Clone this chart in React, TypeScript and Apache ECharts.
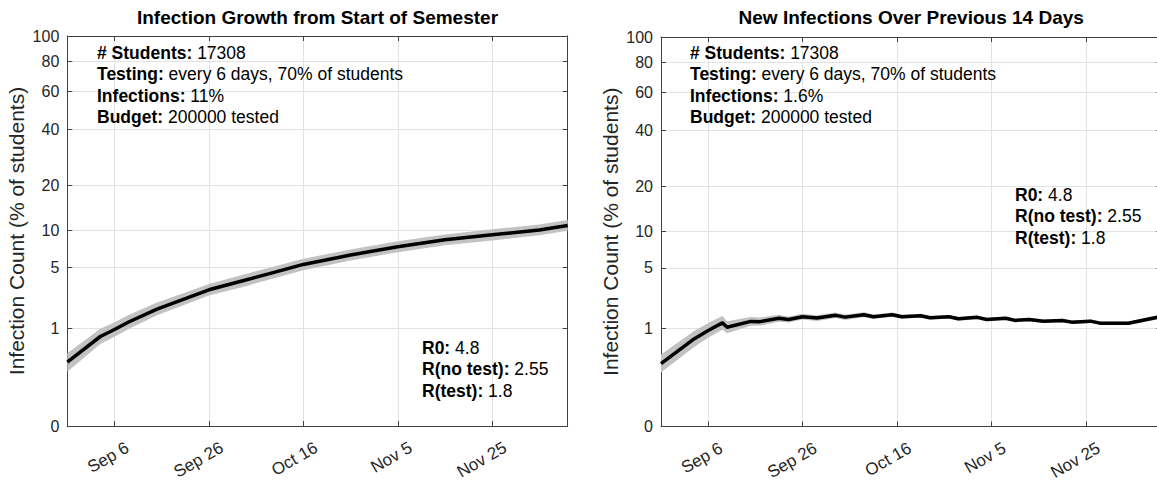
import React, { useEffect, useRef } from 'react';
import * as echarts from 'echarts';

// ---------- data ----------
const dayTicks = [10, 30, 50, 70, 90];
const dayTickLabels = ['Sep 6', 'Sep 26', 'Oct 16', 'Nov 5', 'Nov 25'];
const yTickValues = [0, 1, 5, 10, 20, 40, 60, 80, 100];

const leftDays = [0, 7, 10, 13, 19, 25, 30, 37, 44, 50, 60, 70, 80, 90, 100, 106];
const leftValues = [0.24, 0.74, 0.95, 1.22, 1.8, 2.4, 3.0, 3.7, 4.5, 5.3, 6.4, 7.5, 8.5, 9.3, 10.1, 10.9];
const leftLow = [0.14, 0.55, 0.73, 0.97, 1.5, 2.05, 2.6, 3.2, 3.95, 4.7, 5.75, 6.75, 7.7, 8.4, 9.2, 9.95];
const leftHigh = [0.37, 0.98, 1.21, 1.52, 2.17, 2.8, 3.45, 4.23, 5.1, 5.95, 7.1, 8.3, 9.35, 10.2, 11.05, 11.9];

const rightDays = [0, 7, 10, 13, 14, 19, 21, 25, 27, 30, 33, 37, 39, 43, 45, 49, 51, 55, 57, 61, 63, 67, 69, 73, 75, 78, 81, 85, 87, 91, 93, 99, 106];
const rightValues = [0.23, 0.69, 0.94, 1.21, 1.05, 1.27, 1.26, 1.4, 1.35, 1.47, 1.41, 1.53, 1.45, 1.56, 1.47, 1.56, 1.47, 1.51, 1.42, 1.47, 1.38, 1.44, 1.35, 1.4, 1.31, 1.35, 1.28, 1.31, 1.24, 1.28, 1.2, 1.2, 1.48];
const rightLow = [0.138, 0.5, 0.72, 0.96, 0.85, 1.1, 1.11, 1.26, 1.23, 1.35, 1.29, 1.41, 1.33, 1.45, 1.37, 1.47, 1.38, 1.42, 1.34, 1.39, 1.3, 1.36, 1.28, 1.33, 1.24, 1.28, 1.21, 1.24, 1.17, 1.21, 1.13, 1.13, 1.4];
const rightHigh = [0.36, 0.92, 1.21, 1.5, 1.28, 1.46, 1.43, 1.56, 1.47, 1.6, 1.53, 1.66, 1.57, 1.68, 1.57, 1.66, 1.56, 1.6, 1.5, 1.55, 1.46, 1.52, 1.42, 1.47, 1.38, 1.42, 1.35, 1.38, 1.31, 1.35, 1.27, 1.27, 1.56];

const titles = ['Infection Growth from Start of Semester', 'New Infections Over Previous 14 Days'];
const yName = 'Infection Count (% of students)';
const infoLines = [
  ['# Students:', '17308'],
  ['Testing:', 'every 6 days, 70% of students'],
  ['Infections:', '11%'],
  ['Budget:', '200000 tested'],
];
const infoLinesRight = [
  ['# Students:', '17308'],
  ['Testing:', 'every 6 days, 70% of students'],
  ['Infections:', '1.6%'],
  ['Budget:', '200000 tested'],
];
const rLines = [
  ['R0:', '4.8'],
  ['R(no test):', '2.55'],
  ['R(test):', '1.8'],
];

// ---------- scale (power 0.3) ----------
const P = 0.3;
const tf = (v: number) => Math.pow(v, P);
const inv = (t: number) => Math.pow(Math.max(t, 0), 1 / P);
const yMaxT = tf(100);
const yTicksT = yTickValues.map(tf);

const FONT = 'Liberation Sans, Arial, sans-serif';
const AXIS_COLOR = '#404040';
const GRID_COLOR = '#e2e2e2';
const TICK_FS = 16;
const TEXT_FS = 17.5;
const LINE_H = 21.3;

const GRIDS = [
  { left: 67.3, top: 36, width: 500.4, height: 390 },
  { left: 661, top: 37, width: 500.4, height: 389.5 },
];

function richText(lines: string[][]) {
  return lines.map(([b, n]) => `{b|${b}} {n|${n}}`).join('\n');
}

export default function App() {
  const ref = useRef<HTMLDivElement>(null);
  useEffect(() => {
    if (!ref.current) return;
    const chart = echarts.init(ref.current, undefined, { renderer: 'svg' });

    const xAxes: any[] = [];
    const yAxes: any[] = [];
    const series: any[] = [];
    const graphics: any[] = [];

    const datasets = [
      { d: leftDays, v: leftValues, lo: leftLow, hi: leftHigh },
      { d: rightDays, v: rightValues, lo: rightLow, hi: rightHigh },
    ];

    GRIDS.forEach((g, gi) => {
      xAxes.push({
        type: 'value', gridIndex: gi, min: 0, max: 106, position: 'bottom',
        axisLine: { show: true, onZero: false, lineStyle: { color: AXIS_COLOR, width: 1 } },
        axisTick: { show: true, inside: true, length: 5, customValues: dayTicks, lineStyle: { color: AXIS_COLOR } },
        axisLabel: {
          show: true, customValues: dayTicks, rotate: 30, margin: 18,
          align: 'right', verticalAlign: 'top', padding: [0, -10, 0, 0],
          formatter: (val: number) => {
            const i = dayTicks.indexOf(Math.round(val));
            return i >= 0 ? dayTickLabels[i] : '';
          },
          color: '#262626', fontSize: 17, fontFamily: FONT,
        },
        splitLine: { show: true, lineStyle: { color: GRID_COLOR, width: 1 } },
      });
      xAxes.push({
        type: 'value', gridIndex: gi, min: 0, max: 106, position: 'top',
        axisLine: { show: true, onZero: false, lineStyle: { color: AXIS_COLOR, width: 1 } },
        axisTick: { show: true, inside: true, length: 5, customValues: dayTicks, lineStyle: { color: AXIS_COLOR } },
        axisLabel: { show: false },
        splitLine: { show: false },
      });
      yAxes.push({
        type: 'value', gridIndex: gi, min: 0, max: yMaxT, position: 'left',
        name: yName, nameLocation: 'middle', nameGap: 40, nameRotate: 90,
        nameTextStyle: { fontSize: 21, fontFamily: FONT, color: '#262626' },
        axisLine: { show: true, onZero: false, lineStyle: { color: AXIS_COLOR, width: 1 } },
        axisTick: { show: true, inside: true, length: 5, customValues: yTicksT, lineStyle: { color: AXIS_COLOR } },
        axisLabel: {
          show: true, customValues: yTicksT, margin: 8,
          formatter: (val: number) => String(Math.round(inv(val))),
          color: '#262626', fontSize: TICK_FS, fontFamily: FONT,
        },
        splitLine: { show: true, lineStyle: { color: GRID_COLOR, width: 1 } },
      });
      yAxes.push({
        type: 'value', gridIndex: gi, min: 0, max: yMaxT, position: 'right',
        axisLine: { show: true, onZero: false, lineStyle: { color: AXIS_COLOR, width: 1 } },
        axisTick: { show: true, inside: true, length: 5, customValues: yTicksT, lineStyle: { color: AXIS_COLOR } },
        axisLabel: { show: false },
        splitLine: { show: false },
      });

      const ds = datasets[gi];
      const xi = gi * 2;
      const yi = gi * 2;
      series.push({
        type: 'custom', xAxisIndex: xi, yAxisIndex: yi, coordinateSystem: 'cartesian2d',
        data: [[ds.d[0], tf(ds.v[0])]], silent: true, z: 2, clip: true,
        renderItem: (_params: any, api: any) => {
          const pts: number[][] = [];
          for (let i = 0; i < ds.d.length; i++) pts.push(api.coord([ds.d[i], tf(ds.hi[i])]));
          for (let i = ds.d.length - 1; i >= 0; i--) pts.push(api.coord([ds.d[i], tf(ds.lo[i])]));
          return { type: 'polygon', shape: { points: pts }, style: { fill: '#c2c2c2', stroke: 'none' } };
        },
      });
      series.push({
        type: 'line', xAxisIndex: xi, yAxisIndex: yi,
        data: ds.d.map((d, i) => [d, tf(ds.v[i])]),
        symbol: 'none', silent: true, lineStyle: { width: 3.5, color: '#000' }, z: 3,
      });

      graphics.push({
        type: 'text', x: g.left + g.width / 2, y: 17, z: 100,
        style: { text: titles[gi], fontSize: 19, fontWeight: 'bold', fontFamily: FONT, fill: '#000', align: 'center', verticalAlign: 'middle' },
      });
    });

    const richStyle = {
      b: { fontWeight: 'bold', fontSize: TEXT_FS, fontFamily: FONT, fill: '#000', lineHeight: LINE_H },
      n: { fontSize: TEXT_FS, fontFamily: FONT, fill: '#000', lineHeight: LINE_H },
    };
    const textBlock = (x: number, y: number, lines: string[][]) => ({
      type: 'text', x, y, z: 100,
      style: { text: richText(lines), rich: richStyle, fontSize: TEXT_FS, fontFamily: FONT, lineHeight: LINE_H, fill: '#000' },
    });
    graphics.push(textBlock(97, 42.5, infoLines));
    graphics.push(textBlock(690, 42.5, infoLinesRight));
    graphics.push(textBlock(422, 337.5, rLines));
    graphics.push(textBlock(1015, 184.5, rLines));

    chart.setOption({
      animation: false,
      backgroundColor: '#fff',
      grid: GRIDS.map((g) => ({ ...g, containLabel: false, outerBoundsMode: 'none' })),
      xAxis: xAxes,
      yAxis: yAxes,
      series,
      graphic: graphics,
    });
    return () => chart.dispose();
  }, []);
  return <div ref={ref} style={{ position: 'fixed', left: 0, top: 0, width: 1157, height: 481, overflow: 'hidden' }} />;
}
